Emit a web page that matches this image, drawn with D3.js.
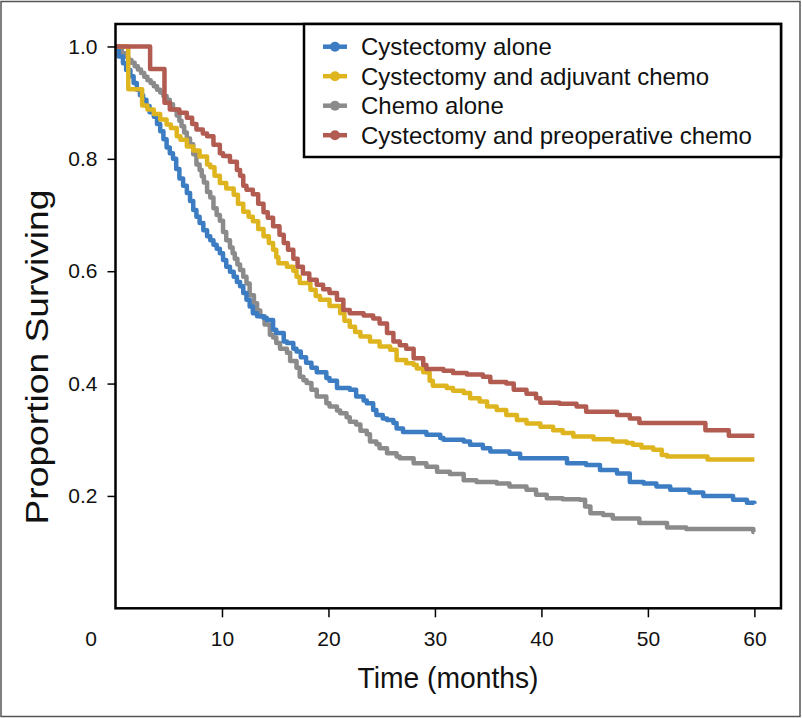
<!DOCTYPE html>
<html><head><meta charset="utf-8">
<script src="https://cdn.jsdelivr.net/npm/d3@7/dist/d3.min.js"></script>
<style>body{margin:0;background:#fff}svg{display:block}</style>
</head><body><svg id="c" width="802" height="718"></svg>
<script>
const seriesNames = ["Cystectomy alone","Cystectomy and adjuvant chemo","Chemo alone","Cystectomy and preoperative chemo"];
const seriesColors = ["#3b7cc3","#dfb51f","#8b8b8b","#b25b51"];
const xTicks = [10,20,30,40,50,60];
const yTicks = [0.2,0.4,0.6,0.8,1.0];

const blueT = [0,0.3,0.7,1.0,1.4,1.7,2.0,2.3,2.6,2.9,3.2,3.6,3.9,4.2,4.5,4.8,5.1,5.4,5.7,6.0,6.35,6.7,7.0,7.3,7.6,7.9,8.25,8.6,8.9,9.2,9.5,9.8,10.1,10.4,10.75,11.1,11.4,11.7,12.0,12.3,12.6,12.9,13.3,13.9,14.2,14.8,15.1,15.8,16.1,16.7,17.0,17.4,17.9,18.4,18.9,19.8,20.1,20.8,22.0,22.6,23.3,23.6,24.2,24.5,25.1,25.5,26.1,26.4,27.0,29.2,30.5,30.8,32.7,33.3,34.5,35.2,37.0,38.0,42.4,44.2,45.5,47.1,48.3,49.6,50.8,52.1,53.9,55.2,58.0,59.3,60];
const blueS = [1.0,0.982,0.97,0.958,0.947,0.935,0.923,0.913,0.905,0.894,0.883,0.875,0.862,0.849,0.835,0.82,0.81,0.80,0.782,0.765,0.752,0.739,0.725,0.709,0.697,0.686,0.673,0.662,0.655,0.647,0.64,0.632,0.62,0.608,0.599,0.59,0.581,0.573,0.561,0.549,0.537,0.525,0.52,0.517,0.513,0.496,0.49,0.475,0.472,0.462,0.457,0.447,0.437,0.428,0.42,0.41,0.405,0.392,0.389,0.377,0.37,0.365,0.353,0.344,0.338,0.335,0.33,0.32,0.314,0.309,0.303,0.300,0.297,0.291,0.285,0.279,0.275,0.267,0.258,0.255,0.246,0.240,0.225,0.222,0.217,0.211,0.206,0.200,0.193,0.188,0.186];

const yellowT = [0,1.2,2.5,3.0,3.6,4.2,4.8,5.2,5.75,6.1,6.7,7.3,7.9,8.6,8.9,9.3,9.8,10.4,11.1,11.5,12.0,12.5,12.9,13.4,13.9,14.4,14.8,15.1,15.3,16.1,16.7,17.0,17.3,18.3,18.8,19.2,20.1,21.1,21.5,22.0,22.5,23.0,23.9,24.8,25.8,26.4,27.3,28.0,28.3,28.9,29.5,29.8,31.1,31.7,32.7,33.3,34.2,34.9,35.8,36.7,37.7,38.6,39.9,41.1,42.0,43.0,44.9,46.7,48.0,48.6,49.4,50.5,51.3,51.8,55.6,60];
const yellowS = [1.0,0.924,0.895,0.888,0.88,0.87,0.861,0.855,0.84,0.834,0.822,0.815,0.804,0.79,0.785,0.77,0.757,0.747,0.736,0.72,0.706,0.697,0.689,0.675,0.662,0.65,0.638,0.625,0.614,0.608,0.601,0.59,0.579,0.567,0.556,0.549,0.538,0.525,0.512,0.501,0.492,0.484,0.475,0.466,0.46,0.442,0.436,0.433,0.427,0.42,0.405,0.396,0.392,0.387,0.383,0.374,0.368,0.359,0.353,0.344,0.335,0.329,0.323,0.317,0.312,0.306,0.301,0.297,0.294,0.291,0.286,0.282,0.273,0.27,0.265,0.265];

const grayT = [0,0.3,0.6,0.9,1.2,1.5,1.8,2.1,2.4,2.7,3.0,3.3,3.6,3.9,4.2,4.5,4.8,5.1,5.4,5.75,6.0,6.2,6.45,6.7,7.0,7.3,7.6,7.9,8.1,8.3,8.6,8.9,9.2,9.5,9.8,10.1,10.4,10.75,11.0,11.2,11.45,11.7,12.0,12.3,12.6,13.0,13.3,13.6,14.0,14.5,14.8,15.1,15.45,16.1,16.4,17.0,17.3,17.65,17.95,18.4,18.9,19.8,20.1,20.8,21.1,21.7,22.0,22.6,23.0,23.6,23.9,24.5,24.8,25.5,26.4,26.7,28.0,29.2,30.2,31.4,32.7,33.9,35.8,37.0,38.6,39.5,40.5,42.0,43.6,44.1,44.6,45.8,46.7,49.2,51.8,53.6,59.9,60];
const grayS = [1.0,0.994,0.988,0.982,0.976,0.971,0.965,0.959,0.953,0.946,0.94,0.935,0.929,0.923,0.918,0.912,0.905,0.897,0.888,0.877,0.868,0.858,0.847,0.836,0.826,0.808,0.79,0.78,0.769,0.758,0.741,0.731,0.712,0.70,0.69,0.67,0.655,0.642,0.632,0.622,0.612,0.602,0.59,0.578,0.557,0.543,0.53,0.52,0.505,0.487,0.482,0.472,0.462,0.455,0.44,0.428,0.412,0.406,0.401,0.389,0.377,0.365,0.359,0.352,0.347,0.34,0.332,0.327,0.316,0.31,0.297,0.292,0.285,0.276,0.27,0.267,0.258,0.252,0.243,0.239,0.228,0.225,0.222,0.217,0.211,0.202,0.196,0.194,0.193,0.181,0.169,0.166,0.160,0.152,0.144,0.141,0.136,0.136];

const redT = [0,3.25,4.6,5.1,6.0,6.7,7.2,7.6,8.2,8.6,9.2,9.8,10.1,10.75,11.4,11.7,12.0,12.3,12.9,13.4,13.9,14.3,14.8,15.4,15.8,16.2,16.7,17.1,17.6,18.2,18.9,19.5,20.1,20.8,21.4,22.0,23.3,24.2,24.8,25.5,26.1,26.7,27.3,28.0,28.9,29.2,30.8,31.7,33.0,34.5,35.2,36.7,37.4,38.6,39.5,39.9,41.7,43.3,44.2,47.1,48.3,49.2,55.4,57.6,60];
const redS = [1.0,0.96,0.90,0.888,0.882,0.873,0.862,0.852,0.845,0.84,0.825,0.81,0.805,0.795,0.78,0.77,0.752,0.745,0.737,0.72,0.705,0.695,0.68,0.665,0.65,0.638,0.622,0.608,0.596,0.585,0.576,0.568,0.561,0.549,0.531,0.525,0.521,0.516,0.507,0.49,0.475,0.468,0.462,0.445,0.433,0.426,0.423,0.419,0.416,0.412,0.403,0.40,0.389,0.382,0.374,0.366,0.364,0.359,0.35,0.344,0.338,0.33,0.317,0.307,0.307];

const seriesT = [blueT, yellowT, grayT, redT];
const seriesS = [blueS, yellowS, grayS, redS];

const svg = d3.select("#c");
svg.append("rect").attr("x",1).attr("y",1.5).attr("width",799).attr("height",715)
  .attr("fill","#fff").attr("stroke","#555").attr("stroke-width",1.5);

const x = d3.scaleLinear().domain([0,62.5]).range([115.5,781]);
const y = d3.scaleLinear().domain([0,1.04]).range([608.3,24]);

const font = "'Liberation Sans', Arial, Helvetica, sans-serif";

const line = d3.line().x(d=>x(d[0])).y(d=>y(d[1])).curve(d3.curveStepAfter);
const order = [2,0,1,3];
order.forEach(i=>{
  const pts = seriesT[i].map((t,k)=>[t, seriesS[i][k]]);
  svg.append("path").datum(pts).attr("d",line).attr("fill","none")
    .attr("stroke",seriesColors[i]).attr("stroke-width",4.5).attr("stroke-linejoin","round");
});

// frame
svg.append("rect").attr("x",x(0)).attr("y",y(1.04)).attr("width",x(62.5)-x(0)).attr("height",y(0)-y(1.04))
  .attr("fill","none").attr("stroke","#000").attr("stroke-width",2.5);

// axes
const xa = svg.append("g").attr("transform",`translate(0,${y(0)})`)
  .call(d3.axisBottom(x).tickValues(xTicks).tickFormat(d3.format("d")).tickSize(9).tickPadding(14));
const ya = svg.append("g").attr("transform",`translate(${x(0)},0)`)
  .call(d3.axisLeft(y).tickValues(yTicks).tickFormat(d3.format(".1f")).tickSize(8).tickPadding(10));
[xa,ya].forEach(g=>{
  g.select(".domain").remove();
  g.selectAll(".tick line").attr("stroke","#000").attr("stroke-width",1.5);
  g.selectAll(".tick text").attr("font-family",font).attr("font-size",21).attr("fill","#111");
});
svg.append("text").attr("x",91).attr("y",y(0)+23).attr("dy","0.71em").attr("text-anchor","middle")
  .attr("font-family",font).attr("font-size",21).attr("fill","#111").text("0");

// axis titles
svg.append("text").attr("x",448).attr("y",688).attr("text-anchor","middle")
  .attr("font-family","'Liberation Sans Narrow', 'Arial Narrow', "+font).attr("font-size",30)
  .attr("textLength",181).attr("lengthAdjust","spacingAndGlyphs").attr("fill","#111").text("Time (months)");
svg.append("text").attr("transform","translate(48,357) rotate(-90)").attr("text-anchor","middle")
  .attr("font-family","'Liberation Sans Narrow', 'Arial Narrow', "+font).attr("font-size",31)
  .attr("textLength",335).attr("lengthAdjust","spacingAndGlyphs").attr("fill","#111").text("Proportion Surviving");

// legend
svg.append("rect").attr("x",304).attr("y",24).attr("width",477).attr("height",133)
  .attr("fill","#fff").attr("stroke","#000").attr("stroke-width",2.5);
const rowY = [46.7,76.2,105.7,135.2];
seriesNames.forEach((n,i)=>{
  const g = svg.append("g");
  g.append("line").attr("x1",323).attr("x2",347).attr("y1",rowY[i]).attr("y2",rowY[i])
    .attr("stroke",seriesColors[i]).attr("stroke-width",4.5);
  g.append("circle").attr("cx",335).attr("cy",rowY[i]).attr("r",5).attr("fill",seriesColors[i]);
  g.append("text").attr("x",361).attr("y",rowY[i]).attr("dy","0.35em")
    .attr("font-family",font).attr("font-size",24).attr("fill","#111").text(n);
});
</script></body></html>
